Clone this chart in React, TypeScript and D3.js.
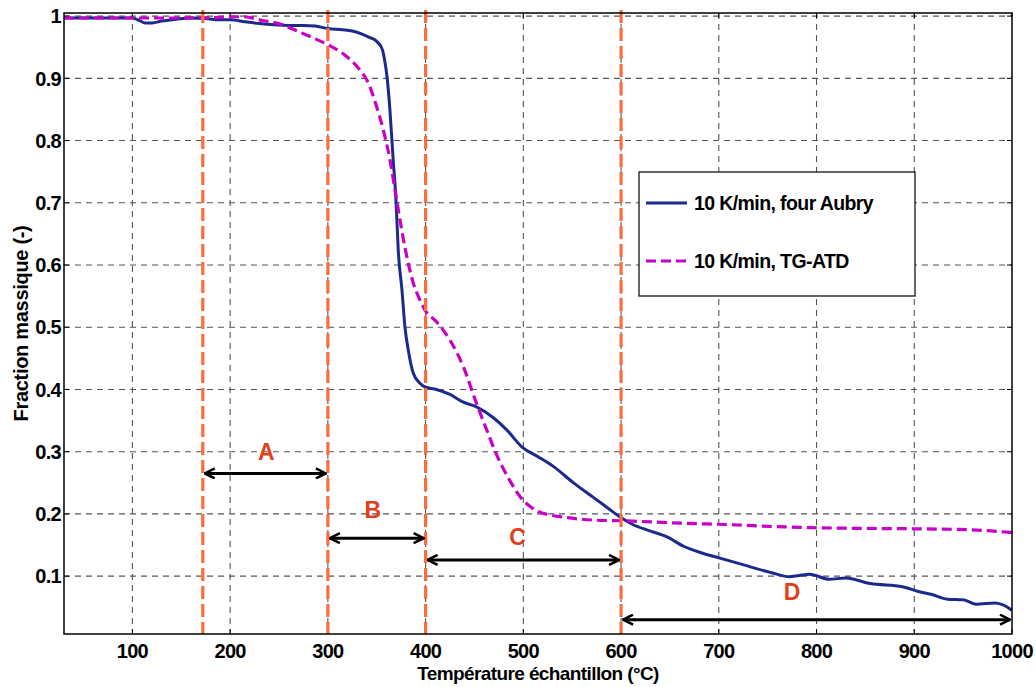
import React from "react";
import * as d3 from "d3";

const blueT = [30, 60, 100, 107, 113, 120, 130, 145, 160, 175, 190, 200, 215, 230, 245, 260, 275, 287, 300, 315, 325, 335, 342, 348, 352, 356, 358, 360.5, 363.5, 366.6, 369.7, 372, 375.8, 378.9, 382.3, 387.4, 394.2, 399.3, 411, 425, 438, 452, 469, 483, 499, 515, 531, 552, 573, 586, 599, 612, 627, 647, 664, 681, 701, 730, 755, 772, 782, 793, 813, 830, 855, 888, 905, 917, 934, 950, 963, 983, 992, 1000];
const blueM = [0.997, 0.997, 0.997, 0.993, 0.989, 0.989, 0.992, 0.995, 0.997, 0.996, 0.994, 0.994, 0.991, 0.988, 0.986, 0.985, 0.985, 0.984, 0.98, 0.978, 0.976, 0.971, 0.966, 0.962, 0.956, 0.945, 0.93, 0.903, 0.849, 0.774, 0.704, 0.624, 0.56, 0.5, 0.463, 0.426, 0.41, 0.404, 0.4, 0.392, 0.38, 0.372, 0.355, 0.335, 0.307, 0.292, 0.276, 0.249, 0.225, 0.21, 0.195, 0.183, 0.174, 0.163, 0.148, 0.138, 0.129, 0.116, 0.105, 0.099, 0.101, 0.103, 0.095, 0.097, 0.088, 0.083, 0.075, 0.071, 0.063, 0.062, 0.055, 0.057, 0.053, 0.045];

const tgT = [30, 100, 150, 190, 205, 215, 230, 254, 271.5, 285, 300, 316, 333, 340, 350, 356.7, 363.5, 370.4, 379, 387.4, 393, 399.3, 411, 425, 438.5, 452, 462.5, 472.7, 486, 498, 507, 515, 528, 540, 573, 600, 664, 706, 768, 830, 905, 946, 975, 1000];
const tgM = [0.997, 0.997, 0.997, 0.998, 0.999, 0.999, 0.994, 0.986, 0.974, 0.965, 0.954, 0.939, 0.913, 0.897, 0.854, 0.817, 0.769, 0.704, 0.627, 0.571, 0.548, 0.528, 0.509, 0.479, 0.437, 0.378, 0.335, 0.295, 0.254, 0.225, 0.212, 0.204, 0.198, 0.195, 0.19, 0.189, 0.185, 0.183, 0.179, 0.177, 0.176, 0.175, 0.173, 0.17];

const xTicks = [100, 200, 300, 400, 500, 600, 700, 800, 900, 1000];
const yTicks = [0.1, 0.2, 0.3, 0.4, 0.5, 0.6, 0.7, 0.8, 0.9, 1];
const yTickLabels = ["0.1", "0.2", "0.3", "0.4", "0.5", "0.6", "0.7", "0.8", "0.9", "1"];

const zoneBounds = [172, 300, 400, 600];
const zoneNames = ["A", "B", "C", "D"];
const arrowFrom = [172, 300, 400, 600];
const arrowTo = [300, 400, 600, 1000];
const arrowY = [0.265, 0.161, 0.126, 0.03];
const labelX = [237, 346, 494, 775];
const labelY = [0.3, 0.206, 0.163, 0.0745];

const legendLabels = ["10 K/min, four Aubry", "10 K/min, TG-ATD"];

const W = 1036;
const H = 687;
const L = 64, R = 1012, T = 13, B = 634;

const FONT = "'Liberation Sans', Arial, Helvetica, sans-serif";

export default function App() {
  const x = d3.scaleLinear().domain([30, 1000]).range([L, R]);
  const y = d3.scaleLinear().domain([0.007, 1.005]).range([B, T]);

  const line = d3
    .line<[number, number]>()
    .x((d) => x(d[0]))
    .y((d) => y(d[1]))
    .curve(d3.curveMonotoneX);

  const blueData: [number, number][] = blueT.map((t, i) => [t, blueM[i]]);
  const tgData: [number, number][] = tgT.map((t, i) => [t, tgM[i]]);

  const blue = "#1b2b8c";
  const magenta = "#c800c8";
  const orange = "#ff6b3b";
  const red = "#e0401c";

  return (
    <svg
      width={W}
      height={H}
      style={{ position: "absolute", left: 0, top: 0, background: "#fff" }}
      fontFamily={FONT}
    >
      <defs>
        <marker
          id="chev"
          viewBox="0 0 12 12"
          refX="11"
          refY="6"
          markerWidth="12"
          markerHeight="12"
          markerUnits="userSpaceOnUse"
          orient="auto-start-reverse"
        >
          <path d="M1,1 L11,6 L1,11" fill="none" stroke="#000" strokeWidth="2.5" />
        </marker>
        <clipPath id="plot">
          <rect x={L} y={T} width={R - L} height={B - T} />
        </clipPath>
      </defs>
      <rect x={0} y={0} width={W} height={H} fill="#fff" />

      {/* grid */}
      {xTicks.slice(0, -1).map((t) => (
        <line key={"gx" + t} x1={x(t)} x2={x(t)} y1={T} y2={B} stroke="#555" strokeWidth={1.1} strokeDasharray="6,5" />
      ))}
      {yTicks.map((t) => (
        <line key={"gy" + t} x1={L} x2={R} y1={y(t)} y2={y(t)} stroke="#555" strokeWidth={1.1} strokeDasharray="6,5" />
      ))}

      {/* ticks */}
      {xTicks.map((t) => (
        <g key={"tx" + t}>
          <line x1={x(t)} x2={x(t)} y1={B} y2={B - 5} stroke="#000" />
          <line x1={x(t)} x2={x(t)} y1={T} y2={T + 5} stroke="#000" />
        </g>
      ))}
      {yTicks.map((t) => (
        <g key={"ty" + t}>
          <line x1={L} x2={L + 5} y1={y(t)} y2={y(t)} stroke="#000" />
          <line x1={R} x2={R - 5} y1={y(t)} y2={y(t)} stroke="#000" />
        </g>
      ))}

      {/* curves */}
      <g clipPath="url(#plot)">
        <path d={line(blueData) || ""} fill="none" stroke={blue} strokeWidth={3} strokeLinejoin="round" />
        <path d={line(tgData) || ""} fill="none" stroke={magenta} strokeWidth={3.2} strokeDasharray="10,5" />
      </g>

      {/* zone boundaries */}
      {zoneBounds.map((t) => (
        <line key={"zb" + t} x1={x(t)} x2={x(t)} y1={T - 3} y2={B} stroke={orange} strokeWidth={3.2} strokeDasharray="13,5" />
      ))}

      {/* arrows */}
      {zoneNames.map((n, i) => (
        <g key={"ar" + n}>
          <line
            x1={x(arrowFrom[i]) + 2}
            x2={x(arrowTo[i]) - 2}
            y1={y(arrowY[i])}
            y2={y(arrowY[i])}
            stroke="#000"
            strokeWidth={3}
            markerStart="url(#chev)"
            markerEnd="url(#chev)"
          />
          <text
            x={x(labelX[i])}
            y={y(labelY[i])}
            dy="0.36em"
            textAnchor="middle"
            fontSize={23}
            fontWeight="bold"
            fill={red}
          >
            {n}
          </text>
        </g>
      ))}

      {/* frame */}
      <rect x={L} y={T} width={R - L} height={B - T} fill="none" stroke="#000" strokeWidth={1.5} />

      {/* tick labels */}
      {xTicks.map((t) => (
        <text key={"lx" + t} x={x(t)} y={658} textAnchor="middle" fontSize={20} fontWeight="bold" letterSpacing={-0.7}>
          {t}
        </text>
      ))}
      {yTicks.map((t, i) => (
        <text key={"ly" + t} x={61} y={y(t)} dy="0.36em" textAnchor="end" fontSize={20} fontWeight="bold" letterSpacing={-0.7}>
          {yTickLabels[i]}
        </text>
      ))}

      {/* axis titles */}
      <text x={538} y={680} textAnchor="middle" fontSize={19} fontWeight="bold" letterSpacing={-0.6}>
        Température échantillon (°C)
      </text>
      <text
        transform={`translate(28,${(T + B) / 2}) rotate(-90)`}
        textAnchor="middle"
        fontSize={20}
        fontWeight="bold"
        letterSpacing={-0.3}
      >
        Fraction massique (-)
      </text>

      {/* legend */}
      <rect x={639} y={172} width={276} height={124} fill="#fff" stroke="#000" strokeWidth={1.2} />
      <line x1={646} x2={687} y1={203} y2={203} stroke={blue} strokeWidth={3} />
      <line x1={646} x2={687} y1={261} y2={261} stroke={magenta} strokeWidth={3.2} strokeDasharray="10,5" />
      {legendLabels.map((s, i) => (
        <text key={"lg" + i} x={694} y={i === 0 ? 203 : 261} dy="0.36em" fontSize={19.5} fontWeight="bold" letterSpacing={-0.6}>
          {s}
        </text>
      ))}
    </svg>
  );
}
